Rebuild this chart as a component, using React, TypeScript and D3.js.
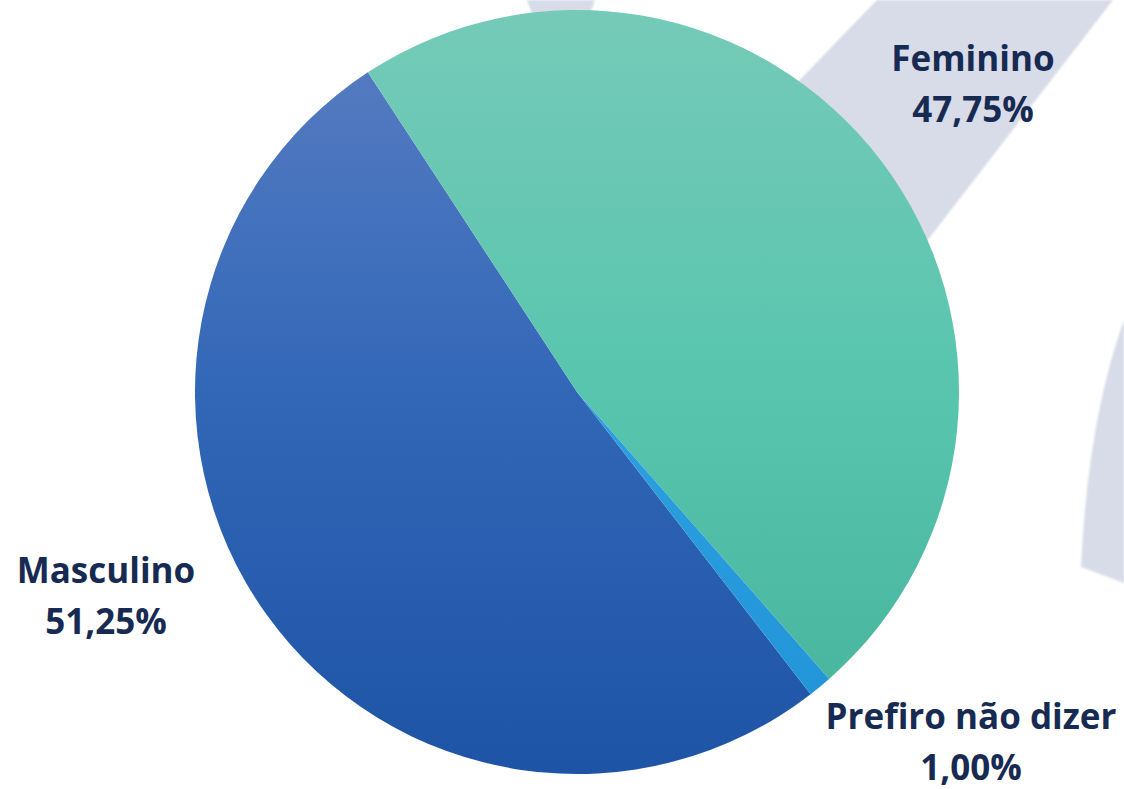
import React from "react";
import * as d3 from "d3";

const categories = ["Masculino", "Feminino", "Prefiro não dizer"];
const values = [51.25, 47.75, 1.0];
const valueLabels = ["51,25%", "47,75%", "1,00%"];

// gradient stops per slice (top, middle, bottom)
const sliceColors = [
  ["#5A7EC2", "#3267B8", "#1E54A5"],
  ["#75CAB8", "#58C5AE", "#44B39A"],
  ["#4AB2EA", "#2CA0E0", "#1F93D6"],
];

const width = 1124;
const height = 789;
const cx = 577;
const cy = 392;
const radius = 382;
const startDeg = 142.3;

// label anchors (centre x, first baseline)
const labelPos = [
  [106, 583],
  [973, 71],
  [971, 729],
];

const textColor = "#172A52";
const watermark = "#D8DBE8";

export default function App() {
  const pie = d3
    .pie<number>()
    .sort(null)
    .value((d) => d)
    .startAngle((startDeg * Math.PI) / 180)
    .endAngle(((startDeg + 360) * Math.PI) / 180);
  const arc = d3.arc<d3.PieArcDatum<number>>().innerRadius(0).outerRadius(radius);
  const arcs = pie(values);

  return (
    <div style={{ position: "fixed", left: 0, top: 0, width, height, background: "#fff" }}>
      <svg width={width} height={height} style={{ display: "block" }}>
        <defs>
          {sliceColors.map((c, i) => (
            <linearGradient
              key={i}
              id={`g${i}`}
              gradientUnits="userSpaceOnUse"
              x1={0}
              y1={-radius}
              x2={0}
              y2={radius}
            >
              <stop offset="0" stopColor={c[0]} />
              <stop offset="0.5" stopColor={c[1]} />
              <stop offset="1" stopColor={c[2]} />
            </linearGradient>
          ))}
          <filter id="soft" x="-5%" y="-5%" width="110%" height="110%">
            <feGaussianBlur stdDeviation="0.8" />
          </filter>
        </defs>

        {/* background watermark */}
        <g fill={watermark} filter="url(#soft)">
          <path d="M877,0 L1113,0 L920,250 L760,250 L760,120 L790,90 Z" />
          <path d="M1124,320 Q1088,420 1081,567 L1124,583 Z" />
          <path d="M527,0 L595,0 L590,14 L532,14 Z" />
        </g>

        <g transform={`translate(${cx},${cy})`}>
          {arcs.map((a, i) => (
            <path key={categories[i]} d={arc(a) || ""} fill={`url(#g${i})`} />
          ))}
        </g>

        <g
          fontFamily="'Open Sans', sans-serif"
          fontWeight={700}
          fontSize={35}
          fill={textColor}
          textAnchor="middle"
        >
          {categories.map((c, i) => (
            <text key={c} x={labelPos[i][0]} y={labelPos[i][1]}>
              <tspan x={labelPos[i][0]}>{c}</tspan>
              <tspan x={labelPos[i][0]} dy={51}>
                {valueLabels[i]}
              </tspan>
            </text>
          ))}
        </g>
      </svg>
    </div>
  );
}
